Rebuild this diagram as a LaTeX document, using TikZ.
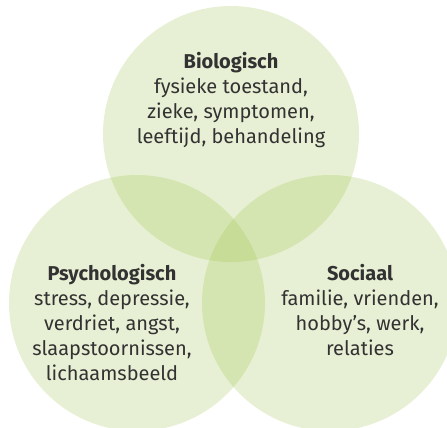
\documentclass[tikz,border=0pt]{standalone}
\usepackage{fontspec}
\setmainfont{Fira Sans}
\definecolor{venngreen}{RGB}{148,188,58}
\definecolor{textgray}{RGB}{50,50,50}

\begin{document}
\begin{tikzpicture}[x=1pt,y=-1pt,
    sphere/.style={fill=venngreen,fill opacity=0.22},
    area/.style={align=center,anchor=north,inner sep=0pt,text=textgray,
      font=\fontsize{20}{25}\selectfont}]
  \useasboundingbox (0,0) rectangle (447,428);

  % the three circles
  \begin{scope}
    \clip (0,0) rectangle (447,428);
    \fill[sphere] (231,134) circle [radius=128];
    \fill[sphere] (137,303) circle [radius=128];
    \fill[sphere] (330,303) circle [radius=128];
  \end{scope}

  % texts
  \node[area] (bio) at (231,52) {\textbf{Biologisch}\\fysieke toestand,\\zieke, symptomen,\\leeftijd, behandeling};
  \node[area] (psy) at (112,264) {\textbf{Psychologisch}\\stress, depressie,\\verdriet, angst,\\slaapstoornissen,\\lichaamsbeeld};
  \node[area] (soc) at (360,264) {\textbf{Sociaal}\\familie, vrienden,\\hobby’s, werk,\\relaties};
\end{tikzpicture}
\end{document}
